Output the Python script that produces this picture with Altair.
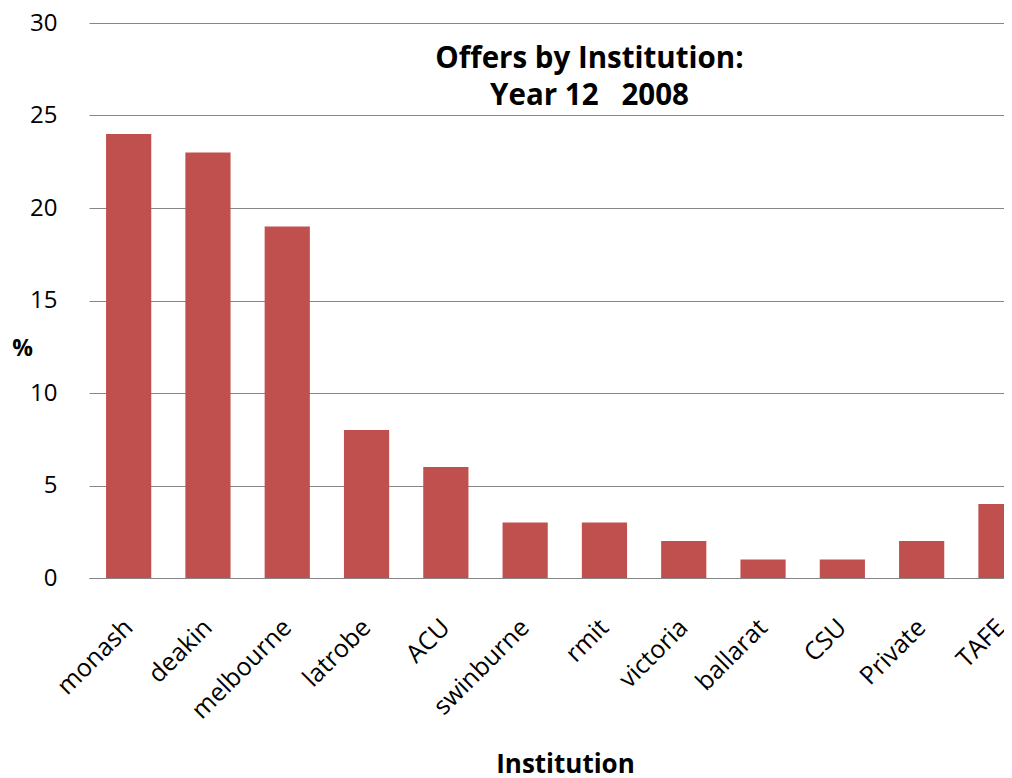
import altair as alt
import pandas as pd

institutions = ["monash", "deakin", "melbourne", "latrobe", "ACU", "swinburne",
                "rmit", "victoria", "ballarat", "CSU", "Private", "TAFE"]
offers_pct = [24, 23, 19, 8, 6, 3, 3, 2, 1, 1, 2, 4]
y_ticks = [0, 5, 10, 15, 20, 25, 30]

df = pd.DataFrame({"Institution": institutions, "pct": offers_pct})

FONT = "Open Sans"
NBSP = "\u00a0"

chart = alt.Chart(df).mark_bar(color="#C0504D", clip=True).encode(
    x=alt.X("Institution:N", sort=institutions,
            scale=alt.Scale(range=[0, 951.6], paddingInner=0.43, paddingOuter=0.215),
            axis=alt.Axis(title="Institution", labelAngle=-45, labelAlign="right",
                          labelBaseline="middle", labelPadding=45, labelFontSize=25,
                          labelFont=FONT, labelColor="black", ticks=False,
                          domainColor="#868686", domainWidth=1, grid=False,
                          titleFont=FONT, titleFontSize=26, titleFontWeight="bold",
                          titleColor="black", titleBaseline="alphabetic",
                          titleX=476, titleY=194, titleAnchor="middle")),
    y=alt.Y("pct:Q", scale=alt.Scale(domain=[0, 30], nice=False),
            axis=alt.Axis(title="%", values=y_ticks, labelFontSize=24, labelFont=FONT,
                          labelColor="black", labelPadding=32, ticks=False, domain=False,
                          gridColor="#868686", gridWidth=1,
                          titleFont=FONT, titleFontSize=23, titleFontWeight="bold",
                          titleColor="black", titleAngle=0, titleAlign="center",
                          titleBaseline="middle", titleX=-67, titleY=325)),
).properties(
    width=915, height=555,
    title=alt.TitleParams(text=["Offers by Institution:", "Year 12" + NBSP * 3 + "2008"],
                          font=FONT, fontSize=29.5, fontWeight="bold", color="black",
                          anchor="middle", orient="top", baseline="top",
                          lineHeight=37, offset=0, dx=43, dy=100),
    autosize=alt.AutoSizeParams(type="none"),
    padding={"left": 81, "top": 15, "right": 0, "bottom": 200},
).configure_view(stroke=None)

chart.save("out.html", embed_options={"renderer": "svg", "actions": False})
